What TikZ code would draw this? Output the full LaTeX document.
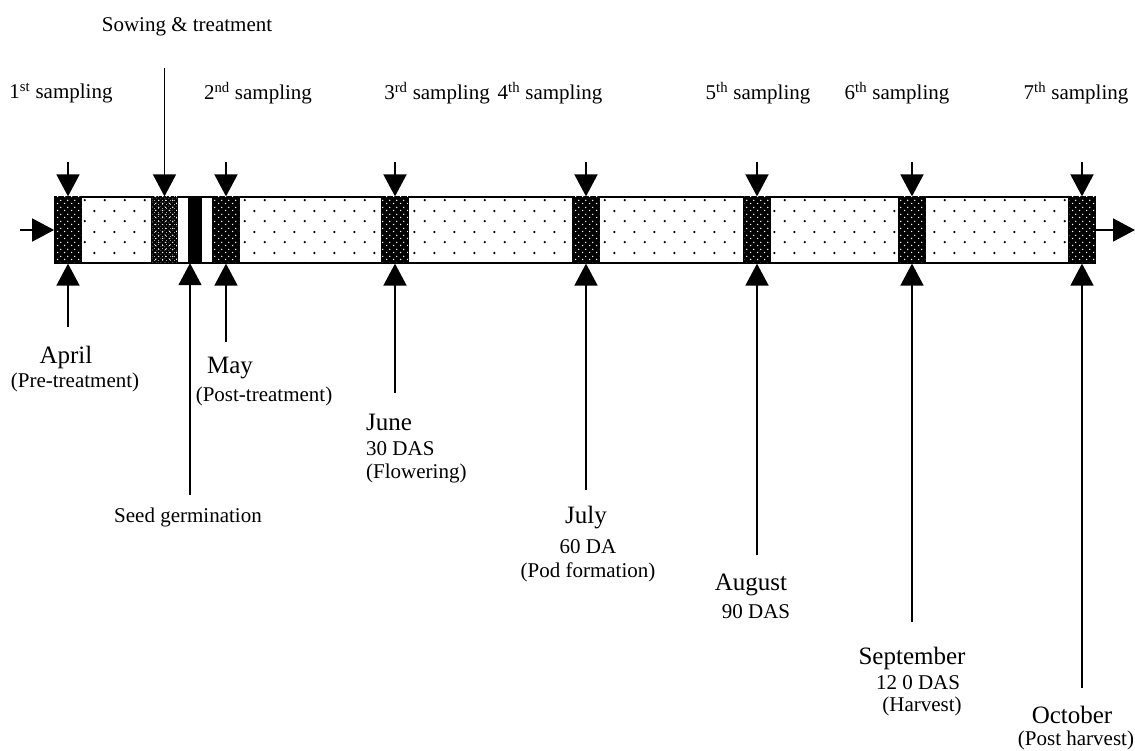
\documentclass[tikz,border=0pt]{standalone}
\usepackage{fontspec}
\setmainfont{Liberation Serif}
\usetikzlibrary{positioning,arrows.meta,patterns}

% dot patterns for the time bar
\pgfdeclarepatternformonly{sparsedots}{\pgfpointorigin}{\pgfpoint{20pt}{21pt}}{\pgfpoint{20pt}{21pt}}{%
  \pgfpathcircle{\pgfpoint{5pt}{5pt}}{1.3pt}%
  \pgfpathcircle{\pgfpoint{15pt}{15.5pt}}{1.3pt}%
  \pgfusepath{fill}}
\pgfdeclarepatternformonly{darkdots}{\pgfpointorigin}{\pgfpoint{7pt}{7pt}}{\pgfpoint{7pt}{7pt}}{%
  \pgfpathcircle{\pgfpoint{1.75pt}{1.75pt}}{0.85pt}%
  \pgfpathcircle{\pgfpoint{5.25pt}{5.25pt}}{0.85pt}%
  \pgfusepath{fill}}
\pgfdeclarepatternformonly{finedots}{\pgfpointorigin}{\pgfpoint{4pt}{4pt}}{\pgfpoint{4pt}{4pt}}{%
  \pgfpathcircle{\pgfpoint{1pt}{1pt}}{0.45pt}%
  \pgfpathcircle{\pgfpoint{3pt}{3pt}}{0.45pt}%
  \pgfusepath{fill}}

\begin{document}
\begin{tikzpicture}[x=1pt, y=-1pt,
  sblock/.style={rectangle, draw=black, line width=1.2pt, fill=black, minimum width=26pt, minimum height=66pt, inner sep=0pt, postaction={pattern=darkdots, pattern color=white}},
  sowblock/.style={sblock, minimum width=25pt, postaction={pattern=finedots, pattern color=white}},
  arr/.style={-{Triangle[width=23pt,length=22pt]}, line width=1.7pt},
  lbl/.style={font=\fontsize{21}{24}\selectfont, inner sep=0pt},
  month/.style={font=\fontsize{25}{29}\selectfont, inner sep=0pt}
]
\useasboundingbox (0,0) rectangle (1135,751);

% Time bar
\node[draw, line width=1.8pt, minimum width=1040pt, minimum height=66pt, inner sep=0pt, pattern=sparsedots] (bar) at (575,230) {};
\node[fill=white, minimum width=11pt, minimum height=63pt, inner sep=0pt] (gapl) at (182.5,230) {};
\node[fill=white, minimum width=11pt, minimum height=63pt, inner sep=0pt] (gapr) at (207.5,230) {};
\node[fill=black, minimum width=14pt, minimum height=66pt, inner sep=0pt] (germbar) at (195,230) {};
\node[sowblock] (sow) at (164.5,230) {};
\foreach \x [count=\k] in {68,226,395,586,757,912,1082}
  \node[sblock] (b\k) at (\x,230) {};

% Top labels
\node[lbl] (sowlbl) at (187,27) {Sowing \& treatment};
\node[lbl] (s1) at (61,93) {1\textsuperscript{st} sampling};
\node[lbl] (s2) at (258,93) {2\textsuperscript{nd} sampling};
\node[lbl] (s3) at (437,93) {3\textsuperscript{rd} sampling};
\node[lbl] (s4) at (550,93) {4\textsuperscript{th} sampling};
\node[lbl] (s5) at (758,93) {5\textsuperscript{th} sampling};
\node[lbl] (s6) at (897,93) {6\textsuperscript{th} sampling};
\node[lbl] (s7) at (1076,93) {7\textsuperscript{th} sampling};

% Bottom labels
\node[month] (apr) at (66,357) {April};
\node[lbl] (aprd) at (75,382) {(Pre-treatment)};
\node[lbl] (germ) at (188,517) {Seed germination};
\node[month] (may) at (230,368) {May};
\node[lbl] (mayd) at (264,396) {(Post-treatment)};
\node[month, anchor=west] (jun) at (366,422) {June};
\node[lbl, anchor=west] (jund) at (366,449) {30 DAS};
\node[lbl, anchor=west] (junp) at (366,473) {(Flowering)};
\node[month] (jul) at (586,518) {July};
\node[lbl] (juld) at (588,547) {60 DA};
\node[lbl] (julp) at (588,572) {(Pod formation)};
\node[month] (aug) at (751,585) {August};
\node[lbl] (augd) at (756,612) {90 DAS};
\node[month] (sep) at (912,658) {September};
\node[lbl] (sepd) at (918,683) {12 0 DAS};
\node[lbl] (sepp) at (922,706) {(Harvest)};
\node[month] (oct) at (1072,715) {October};
\node[lbl] (octp) at (1076,740) {(Post harvest)};

% Free ends of the arrows
\coordinate (in) at (20,230);
\coordinate (out) at (1135,230);
\coordinate (sowtop) at (164.5,68);
\foreach \x [count=\k] in {68,226,395,586,757,912,1082}
  \coordinate (t\k) at (\x,162);
\coordinate (e1) at (68,327);
\coordinate (e2) at (226,342);
\coordinate (e3) at (395,393);
\coordinate (e4) at (586,490);
\coordinate (e5) at (757,555);
\coordinate (e6) at (912,622);
\coordinate (e7) at (1082,688);
\coordinate (eg) at (190,495);

% Arrows
\draw[arr] (in) -- (bar.west);
\draw[arr] (bar.east) -- (out);
\draw[arr, line width=1.3pt] (sowtop) -- (sow.north);
\foreach \k in {1,...,7} {
  \draw[arr] (t\k) -- (b\k.north);
  \draw[arr] (e\k) -- (b\k.south);
}
\draw[arr] (eg) -- (eg |- germbar.south);

\end{tikzpicture}
\end{document}
